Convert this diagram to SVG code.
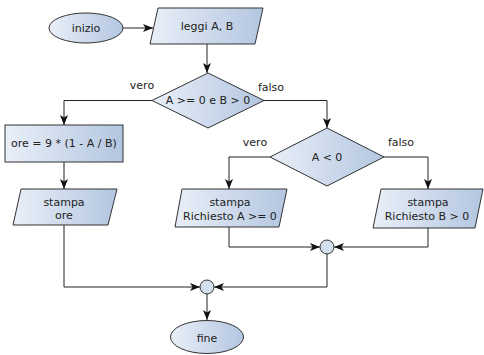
<svg xmlns="http://www.w3.org/2000/svg" width="484" height="355" viewBox="0 0 484 355">
  <defs>
    <linearGradient id="shade" x1="0" y1="0" x2="1" y2="0">
      <stop offset="0" stop-color="#e9eff8"/>
      <stop offset="1" stop-color="#b3c6e0"/>
    </linearGradient>
    <marker id="arrow" viewBox="0 0 10 8" refX="10" refY="4" markerWidth="10" markerHeight="8" markerUnits="userSpaceOnUse" orient="auto">
      <path d="M0,0 L10,4 L0,8 L2.5,4 Z" fill="#111"/>
    </marker>
  </defs>
  <style>
    .shape { fill: url(#shade); stroke: #333; stroke-width: 1; }
    .dot { fill: #d3deee; stroke: #333; stroke-width: 1; }
    .edge { fill: none; stroke: #222; stroke-width: 1; marker-end: url(#arrow); }
    text { font-family: "DejaVu Sans", Verdana, sans-serif; font-size: 11px; fill: #222; text-anchor: middle; dominant-baseline: central; }
  </style>
  <rect width="484" height="355" fill="#fff"/>

  <g id="connectors">
    <path class="edge" d="M123,28 H153"/>
    <path class="edge" d="M207,44 V73"/>
    <path class="edge" d="M152,100.5 H64 V125"/>
    <path class="edge" d="M64,162 V189"/>
    <path class="edge" d="M264,100.5 H327 V128"/>
    <path class="edge" d="M270,157 H229 V189"/>
    <path class="edge" d="M384,157 H428 V189"/>
    <path class="edge" d="M229,227 V247 H320"/>
    <path class="edge" d="M428,228 V247 H334"/>
    <path class="edge" d="M64,225 V287 H200"/>
    <path class="edge" d="M327,254 V287 H214"/>
    <path class="edge" d="M207,294 V320"/>
  </g>

  <g id="labels">
    <text x="142" y="85">vero</text>
    <text x="271" y="87">falso</text>
    <text x="255" y="142">vero</text>
    <text x="401" y="142">falso</text>
  </g>

  <g id="start">
    <ellipse class="shape" cx="86" cy="28" rx="37" ry="15"/>
    <text x="86" y="28">inizio</text>
  </g>

  <g id="read">
    <polygon class="shape" points="158,8 263,8 255,44 150,44"/>
    <text x="207" y="26">leggi A, B</text>
  </g>

  <g id="check-positive">
    <polygon class="shape" points="208,73 264,100.5 208,128 152,100.5"/>
    <text x="208" y="100.5">A &gt;= 0 e B &gt; 0</text>
  </g>

  <g id="compute">
    <rect class="shape" x="5" y="125" width="118" height="37"/>
    <text x="64" y="143.5">ore = 9 * (1 - A / B)</text>
  </g>

  <g id="print-ore">
    <polygon class="shape" points="21,189 117,189 108,225 13,225"/>
    <text x="64" y="202">stampa</text>
    <text x="64" y="215.5">ore</text>
  </g>

  <g id="check-a">
    <polygon class="shape" points="327,128 384,157 327,186 270,157"/>
    <text x="327" y="157">A &lt; 0</text>
  </g>

  <g id="print-a">
    <polygon class="shape" points="182,189 287,189 279,227 175,227"/>
    <text x="230" y="202.5">stampa</text>
    <text x="230" y="216">Richiesto A &gt;= 0</text>
  </g>

  <g id="print-b">
    <polygon class="shape" points="381,189 483,189 475,228 373,228"/>
    <text x="428" y="202.5">stampa</text>
    <text x="427" y="216">Richiesto B &gt; 0</text>
  </g>

  <g id="merge-1">
    <circle class="dot" cx="327" cy="247" r="7"/>
  </g>

  <g id="merge-2">
    <circle class="dot" cx="207" cy="287" r="7"/>
  </g>

  <g id="end">
    <ellipse class="shape" cx="207" cy="337" rx="36.5" ry="16.5"/>
    <text x="207" y="338">fine</text>
  </g>
</svg>
